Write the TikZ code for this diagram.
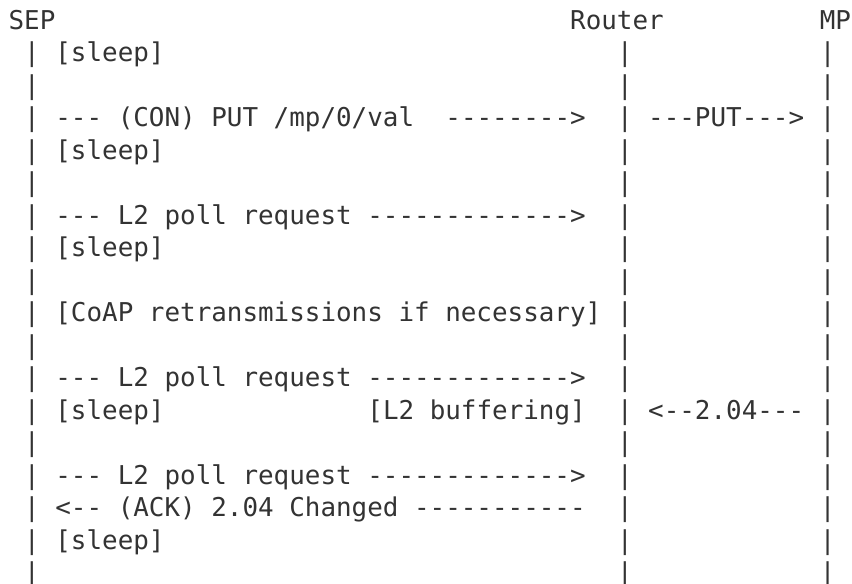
\documentclass[tikz,border=0pt]{standalone}
\usepackage{fontspec}
\newfontfamily\asciimono{DejaVu Sans Mono}
\definecolor{ink}{HTML}{333333}
\tikzset{
  txt/.style={anchor=base west, inner sep=0pt, outer sep=0pt, text=ink,
    font=\asciimono\fontsize{19.43}{24}\selectfont\frenchspacing},
}
\newcommand\placeT[4]{\node[txt] (#1) at ({-7+15.6*#2},{29.3+32.5*#3}) {#4};}
\begin{document}
\begin{tikzpicture}[x=0.75pt,y=-0.75pt]
\useasboundingbox[fill=white] (0,0) rectangle (852,584);
% headers
\placeT{sep}{1}{0}{SEP}
\placeT{router}{37}{0}{Router}
\placeT{mp}{53}{0}{MP}
% lifelines
\foreach \r in {1,...,17}{
  \placeT{sepbar\r}{2}{\r}{|}
  \placeT{rtbar\r}{40}{\r}{|}
  \placeT{mpbar\r}{53}{\r}{|}
}
% messages and notes
\placeT{sleepA}{4}{1}{[sleep]}
\placeT{con}{4}{3}{--- (CON) PUT /mp/0/val}
\placeT{conarrow}{29}{3}{-------->}
\placeT{put}{42}{3}{---PUT--->}
\placeT{sleepB}{4}{4}{[sleep]}
\placeT{pollA}{4}{6}{--- L2 poll request ------------->}
\placeT{sleepC}{4}{7}{[sleep]}
\placeT{coap}{4}{9}{[CoAP retransmissions if necessary]}
\placeT{pollB}{4}{11}{--- L2 poll request ------------->}
\placeT{sleepD}{4}{12}{[sleep]}
\placeT{buffer}{24}{12}{[L2 buffering]}
\placeT{resp}{42}{12}{<--2.04---}
\placeT{pollC}{4}{14}{--- L2 poll request ------------->}
\placeT{ack}{4}{15}{<-- (ACK) 2.04 Changed -----------}
\placeT{sleepE}{4}{16}{[sleep]}
\end{tikzpicture}
\end{document}
